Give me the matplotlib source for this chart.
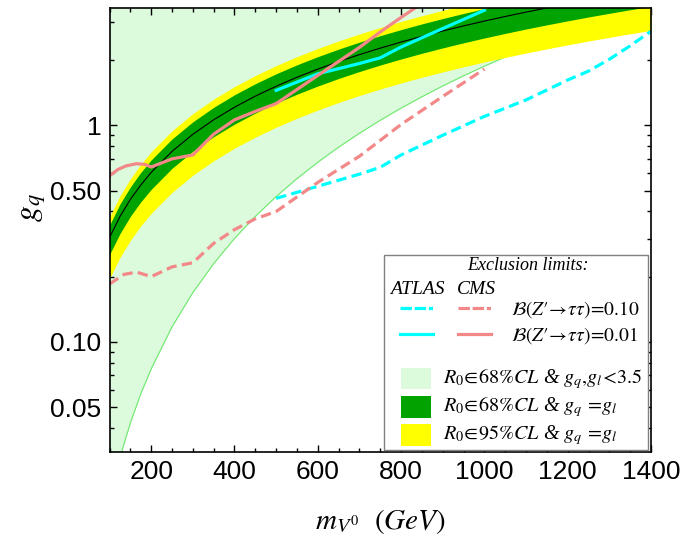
import matplotlib
matplotlib.use('Agg')
import matplotlib.pyplot as plt
from matplotlib.ticker import FixedLocator, FixedFormatter, NullFormatter
from matplotlib.patches import Rectangle
from matplotlib.lines import Line2D

# ---------------- data ----------------
m_band = [100, 125, 150, 175, 200, 250, 300, 350, 400, 450, 500, 550, 600, 650, 700,
          750, 800, 850, 900, 950, 1000, 1050, 1100, 1150, 1200, 1250, 1300, 1350, 1400]
center = [0.303, 0.379, 0.455, 0.530, 0.606, 0.758, 0.909, 1.061, 1.212, 1.364, 1.515, 1.667,
          1.818, 1.970, 2.121, 2.273, 2.424, 2.576, 2.727, 2.879, 3.030, 3.182, 3.333, 3.485,
          3.636, 3.788, 3.939, 4.091, 4.242]
green_lo = [0.253, 0.316, 0.380, 0.443, 0.506, 0.633, 0.759, 0.886, 1.013, 1.139, 1.266, 1.392,
            1.519, 1.646, 1.772, 1.899, 2.025, 2.152, 2.278, 2.405, 2.532, 2.658, 2.785, 2.911,
            3.038, 3.165, 3.291, 3.418, 3.544]
green_hi = [0.346, 0.433, 0.519, 0.606, 0.692, 0.865, 1.038, 1.211, 1.384, 1.557, 1.730, 1.903,
            2.076, 2.249, 2.422, 2.595, 2.768, 2.941, 3.114, 3.287, 3.460, 3.633, 3.806, 3.979,
            4.152, 4.325, 4.498, 4.671, 4.844]
yellow_lo = [0.196, 0.245, 0.294, 0.343, 0.392, 0.490, 0.588, 0.686, 0.784, 0.882, 0.980, 1.078,
             1.176, 1.275, 1.373, 1.471, 1.569, 1.667, 1.765, 1.863, 1.961, 2.059, 2.157, 2.255,
             2.353, 2.451, 2.549, 2.647, 2.745]
yellow_hi = [0.377, 0.472, 0.566, 0.660, 0.755, 0.943, 1.132, 1.321, 1.509, 1.698, 1.887, 2.075,
             2.264, 2.453, 2.642, 2.830, 3.019, 3.208, 3.396, 3.585, 3.774, 3.962, 4.151, 4.340,
             4.528, 4.717, 4.906, 5.094, 5.283]
light_lo = [0.0188, 0.0293, 0.0422, 0.0575, 0.0750, 0.1173, 0.1689, 0.2298, 0.3002, 0.3799,
            0.4690, 0.5675, 0.6754, 0.7927, 0.9193, 1.0553, 1.2008, 1.3555, 1.5197, 1.6932,
            1.8762, 2.0685, 2.2702, 2.4812, 2.7017, 2.9315, 3.1707, 3.4193, 3.6773]
g_max = 3.5

# CMS  B(Z'->tautau)=0.01 (solid) and 0.10 (dashed)
cms_solid_m = [100, 120, 140, 165, 185, 200, 250, 300, 350, 400, 450, 500, 600, 700, 750, 800, 835]
cms_solid_g = [0.585, 0.625, 0.65, 0.665, 0.66, 0.642, 0.70, 0.73, 0.91, 1.06, 1.16, 1.26, 1.70,
               2.29, 2.70, 3.15, 3.5]
cms_dash_m = [100, 135, 165, 200, 250, 300, 350, 400, 450, 500, 600, 700, 800, 900, 1000]
cms_dash_g = [0.185, 0.205, 0.21, 0.20, 0.222, 0.232, 0.285, 0.33, 0.37, 0.40, 0.545, 0.72,
              1.01, 1.36, 1.82]
# ATLAS
atlas_solid_m = [500, 600, 700, 750, 800, 900, 1000]
atlas_solid_g = [1.45, 1.73, 1.93, 2.05, 2.30, 2.80, 3.40]
atlas_dash_m = [500, 600, 700, 750, 800, 900, 1000, 1100, 1200, 1250, 1300, 1350, 1400]
atlas_dash_g = [0.46, 0.523, 0.595, 0.64, 0.73, 0.90, 1.10, 1.31, 1.62, 1.78, 2.02, 2.33, 2.72]

x_ticks = [200, 400, 600, 800, 1000, 1200, 1400]
x_ticklabels = ['200', '400', '600', '800', '1000', '1200', '1400']
y_ticks = [0.05, 0.1, 0.5, 1]
y_ticklabels = ['0.05', '0.10', '0.50', '1']
y_minor = [0.04, 0.06, 0.07, 0.08, 0.09, 0.2, 0.3, 0.4, 0.6, 0.7, 0.8, 0.9, 2, 3]

# ---------------- style ----------------
plt.rcParams['mathtext.fontset'] = 'stix'
plt.rcParams['lines.scale_dashes'] = False
plt.rcParams['font.family'] = ['Liberation Sans', 'DejaVu Sans']

C_LIGHT = '#dcfbdc'
C_THIN = '#6ee86e'
C_GREEN = '#00a300'
C_YELLOW = '#ffff00'
C_CYAN = '#00ffff'
C_SALMON = '#f28888'

fig = plt.figure(figsize=(6.99, 5.41), dpi=100)
ax = fig.add_axes([0.1567, 0.1645, 0.7747, 0.8216])
ax.set_yscale('log')
ax.set_xlim(100, 1400)
ax.set_ylim(0.031, 3.5)

ax.fill_between(m_band, light_lo, g_max, color=C_LIGHT, lw=0, zorder=1)
ax.plot(m_band, light_lo, color=C_THIN, lw=0.8, zorder=1.2)
ax.fill_between(m_band, yellow_lo, yellow_hi, color=C_YELLOW, lw=0, zorder=2)
ax.fill_between(m_band, green_lo, green_hi, color=C_GREEN, lw=0, zorder=3)
ax.plot(m_band, center, color='black', lw=0.8, zorder=4)

dash = (0, (7.5, 3.8))
ax.plot(atlas_dash_m, atlas_dash_g, color=C_CYAN, lw=2.3, ls=dash, zorder=5)
ax.plot(atlas_solid_m, atlas_solid_g, color=C_CYAN, lw=2.3, zorder=5)
ax.plot(cms_dash_m, cms_dash_g, color=C_SALMON, lw=2.3, ls=dash, zorder=6)
ax.plot(cms_solid_m, cms_solid_g, color=C_SALMON, lw=2.3, zorder=6)

# ticks
ax.xaxis.set_major_locator(FixedLocator(x_ticks))
ax.xaxis.set_major_formatter(FixedFormatter(x_ticklabels))
ax.xaxis.set_minor_locator(FixedLocator(list(range(100, 1401, 50))))
ax.xaxis.set_minor_formatter(NullFormatter())
ax.yaxis.set_major_locator(FixedLocator(y_ticks))
ax.yaxis.set_major_formatter(FixedFormatter(y_ticklabels))
ax.yaxis.set_minor_locator(FixedLocator(y_minor))
ax.yaxis.set_minor_formatter(NullFormatter())
ax.tick_params(which='both', direction='in', top=True, right=True, width=1.0, color='black')
ax.tick_params(which='major', length=5, labelsize=19, pad=6)
ax.tick_params(which='minor', length=2.7)
for sp in ax.spines.values():
    sp.set_linewidth(1.2)
    sp.set_zorder(10)

ax.set_xlabel(r'$m_{V^0}\ \ (GeV)$', fontsize=21)
ax.xaxis.set_label_coords(0.5, -0.124)
ax.set_ylabel(r'$g_q$', fontsize=23)
ax.yaxis.set_label_coords(-0.114, 0.55)

# ---------------- legend (drawn in axes fraction) ----------------
T = ax.transAxes
ax.add_patch(Rectangle((0.507, 0.0045), 0.4875, 0.4387, transform=T, facecolor='white',
                       edgecolor='#808080', lw=1.0, zorder=20))
serif = dict(family=['Liberation Serif', 'DejaVu Serif'], style='italic', zorder=21, transform=T)
ax.text(0.7725, 0.4207, 'Exclusion limits:', ha='center', va='center', fontsize=13, **serif)
ax.text(0.5688, 0.3667, 'ATLAS', ha='center', va='center', fontsize=14, **serif)
ax.text(0.6768, 0.3667, 'CMS', ha='center', va='center', fontsize=14, **serif)

dashdot = (0, (8.2, 2.0, 8.2, 2.0, 3.0, 2.0))
for yy, ls in ((0.3233, dashdot), (0.2648, '-')):
    ax.add_line(Line2D([0.5364, 0.5968], [yy, yy], transform=T, color=C_CYAN, lw=2.3,
                       ls=ls, zorder=21))
    ax.add_line(Line2D([0.6436, 0.7045], [yy, yy], transform=T, color=C_SALMON, lw=2.3,
                       ls=ls, zorder=21))
ax.text(0.7409, 0.3195, "$\\mathcal{B}(Z\u2032\\!\\rightarrow\\!\\tau\\tau)\\!=\\!\\mathit{0.10}$",
        ha='left', va='center', fontsize=14, **serif)
ax.text(0.7409, 0.2621, "$\\mathcal{B}(Z\u2032\\!\\rightarrow\\!\\tau\\tau)\\!=\\!\\mathit{0.01}$",
        ha='left', va='center', fontsize=14, **serif)

patches = [(0.1411, 0.1883, C_LIGHT, r'$R_0\!\in\!\mathit{68\%CL}$ & $g_q{,}g_l\!<\!\mathit{3.5}$'),
           (0.0772, 0.1260, C_GREEN, r'$R_0\!\in\!\mathit{68\%CL}$ & $g_q\ \!=\!g_l$'),
           (0.0142, 0.0630, C_YELLOW, r'$R_0\!\in\!\mathit{95\%CL}$ & $g_q\ \!=\!g_l$')]
for y0, y1, col, lab in patches:
    ax.add_patch(Rectangle((0.5383, y0), 0.0554, y1 - y0, transform=T, facecolor=col,
                           edgecolor='none', zorder=21))
    ax.text(0.6164, (y0 + y1) / 2, lab, ha='left', va='center', fontsize=14.5, **serif)

fig.savefig('out.png', dpi=100)
